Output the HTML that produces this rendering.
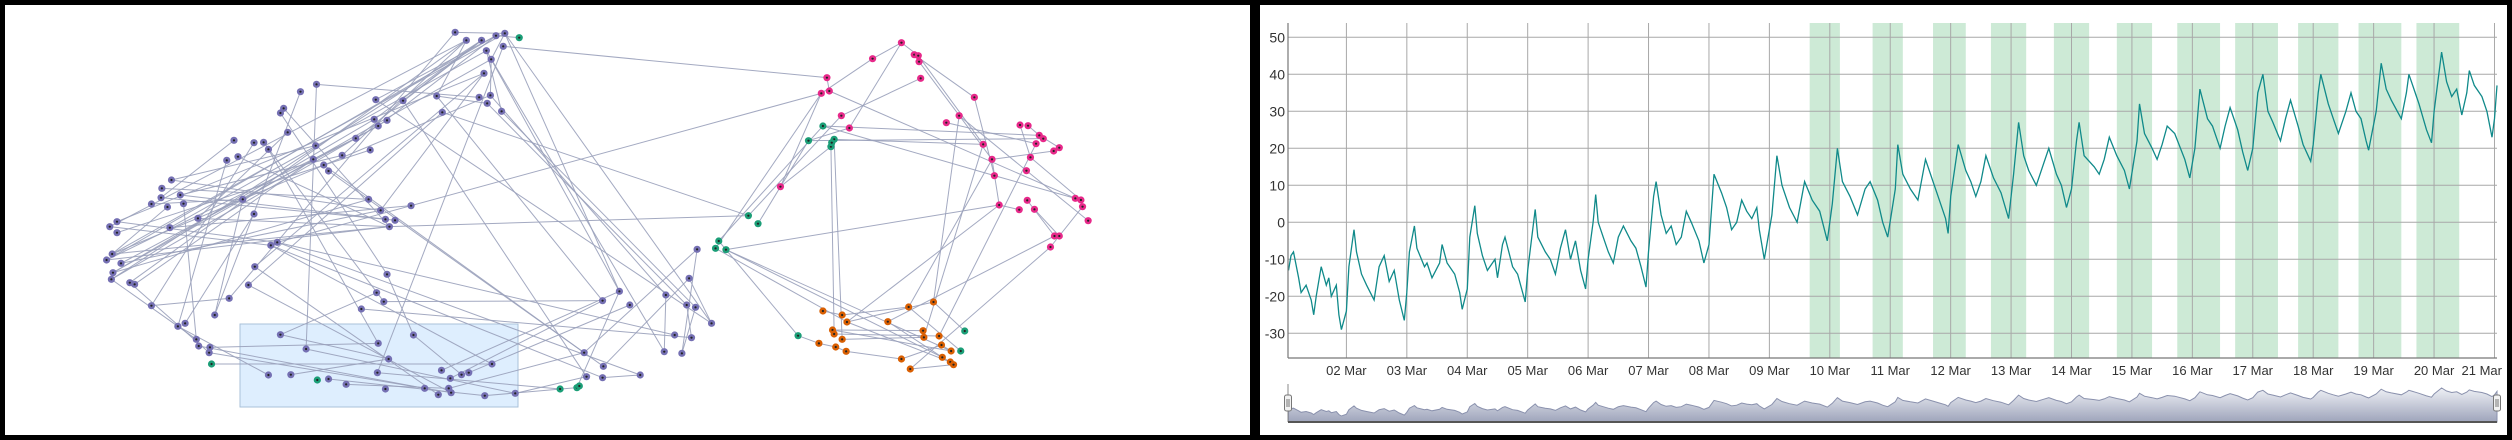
<!DOCTYPE html>
<html><head><meta charset="utf-8"><style>
html,body{margin:0;padding:0;background:#000;}
svg{display:block;font-family:"Liberation Sans",sans-serif;}
</style></head><body>
<svg id="root" width="2512" height="440" viewBox="0 0 2512 440">
<rect x="0" y="0" width="2512" height="440" fill="#000"/>
<g id="netPanel">
<rect x="5" y="5" width="1245" height="430" fill="#fff"/>
<rect x="240" y="324" width="278" height="83" fill="#deeefe" stroke="#a9c1d9" stroke-width="1"/>
<g id="edges"></g>
<g id="nodes"></g>
</g>
<g id="chartPanel">
<rect x="1260" y="5" width="1247" height="430" fill="#fff"/>
<g id="bands"></g>
<g id="grid"></g>
<g id="series"></g>
<g id="axes"></g>
<g id="nav"></g>
</g>
</svg>
<script>
// ---------- network data (zoom coordinates) ----------
const purpleNodes=[[568,97],[582,121],[601,121],[619,107],[630,100],[628,139],[607,152],[613,178],[604,220],[612,286],[598,292],[608,310],[626,334],[545,288],[552,337],[503,302],[469,299],[395,253],[375,275],[354,325],[350,339],[359,397],[467,358],[483,361],[472,378],[444,415],[462,450],[427,466],[394,437],[391,478],[404,495],[410,513],[317,428],[329,427],[335,448],[292,421],[297,470],[283,481],[214,540],[202,565],[225,585],[201,593],[229,611],[209,621],[189,612],[303,598],[317,642],[247,655],[212,683],[146,665],[137,680],[146,698],[460,598],[513,617],[475,631],[481,658],[493,661],[486,680],[346,727],[338,736],[140,762],[133,780],[151,790],[141,818],[139,838],[162,848],[168,853],[318,800],[310,855],[483,823],[470,878],[479,905],[451,927],[286,895],[189,917],[268,945],[231,970],[222,979],[245,1018],[248,1038],[262,1042],[261,1058],[350,1004],[382,1047],[472,1030],[516,1005],[485,1077],[471,1118],[335,1125],[363,1124],[410,1137],[432,1153],[481,1167],[530,1165],[547,1184],[563,1178],[560,1165],[562,1135],[551,1111],[576,1124],[585,1118],[614,1092],[605,1187],[643,1180],[729,1058],[732,1130],[752,1133],[753,1099],[799,1125],[829,1055],[851,1060],[863,1013],[842,1005],[888,970],[857,915],[868,922],[831,885],[860,835],[870,748],[773,874],[786,915],[752,902]];
const greenNodes=[[648,113],[264,1092],[396,1140],[699,1167],[720,1163],[723,1158],[934,647],[946,671],[897,723],[893,745],[906,749],[1027,378],[1009,422],[1037,440],[1041,418],[1038,428],[996,1007],[1204,993],[1199,1053]];
const pinkNodes=[[1125,128],[1089,176],[1141,164],[1146,167],[1147,185],[1032,233],[1149,235],[1216,292],[1025,280],[1035,273],[1050,347],[1060,384],[1197,347],[1181,368],[1273,375],[1283,377],[1297,406],[1302,416],[1227,433],[1293,431],[1315,453],[1322,443],[1238,478],[1286,472],[1281,512],[1241,527],[974,560],[1342,595],[1349,600],[1351,620],[1247,615],[1272,629],[1282,601],[1291,628],[1358,662],[1316,708],[1322,708],[1311,741]];
const orangeNodes=[[1027,933],[1051,945],[1057,966],[1134,921],[1165,906],[1108,965],[1039,990],[1041,1002],[1152,992],[1172,1008],[1153,1012],[1051,1018],[1022,1030],[1043,1041],[1056,1054],[1175,1035],[1187,1053],[1176,1072],[1125,1077],[1186,1086],[1190,1094],[1136,1107]];
const edgeList=[[568,97,630,100],[582,121,545,288],[601,121,503,302],[619,107,469,299],[630,100,613,178],[607,152,626,334],[613,178,612,286],[604,220,475,631],[628,139,1032,233],[601,121,467,358],[582,121,427,466],[619,107,472,378],[613,178,773,874],[607,152,829,1055],[604,220,146,665],[612,286,140,762],[598,292,395,253],[608,310,545,288],[630,100,888,970],[648,113,619,107],[601,121,444,415],[582,121,137,680],
[552,337,934,647],[1025,280,346,727],[486,680,934,647],[906,749,1247,615],[354,325,486,680],[350,339,483,823],[359,397,247,655],[467,358,141,818],[483,361,139,838],[472,378,151,790],[444,415,133,780],[462,450,146,698],[427,466,225,585],[394,437,214,540],[391,478,168,853],[404,495,729,1058],[410,513,753,1099],[317,428,189,917],[329,427,479,905],[335,448,472,1030],[292,421,201,593],[297,470,486,680],[283,481,222,979],[214,540,475,631],[202,565,460,598],[225,585,493,661],[201,593,481,658],[229,611,245,1018],[209,621,140,762],[189,612,303,598],[303,598,268,945],[317,642,231,970],[247,655,486,680],[212,683,513,617],[146,665,346,727],[137,680,338,736],[140,762,483,680],[133,780,486,680],[151,790,475,631],[141,818,460,598],[139,838,245,1018],[162,848,262,1058],[346,727,799,1125],[338,736,614,1092],[346,727,842,1005],[338,736,753,1133],[318,800,547,1184],[310,855,563,1178],[483,823,516,1005],[470,878,350,1004],[479,905,752,902],[451,927,863,1013],[286,895,189,917],[262,1042,472,1030],[248,1038,530,1165],[261,1058,563,1178],[264,1092,614,1092],[382,1047,643,1180],[350,1004,485,1077],[471,1118,699,1167],[410,1137,605,1187],[432,1153,560,1165],[363,1124,485,1077],[335,1125,222,979],[516,1005,576,1124],[551,1111,773,874],[585,1118,786,915],[562,1135,752,902],[605,1187,720,1163],[643,1180,732,1130],[729,1058,870,748],[753,1133,799,1125],[753,1099,860,835],[831,885,829,1055],[857,915,863,1013],[868,922,851,1060],[888,970,860,835],[870,748,851,1060],[773,874,720,1163],[560,1165,729,1058],[630,100,773,874],[608,310,857,915],[626,334,868,922],[612,286,831,885],[545,288,752,902],[503,302,732,1130],[469,299,888,970],[395,253,382,1047],[375,275,268,945],[552,337,310,855],[628,139,471,1118],[604,220,318,800],[582,121,162,848],[601,121,139,838],[613,178,141,818],[619,107,133,780],[630,100,140,762],[607,152,212,683],[568,97,286,895],
[897,723,1027,378],[893,745,1025,280],[906,749,1176,1072],[893,745,1057,966],[897,723,996,1007],[906,749,1187,1053],[946,671,1009,422],[934,647,1050,347],[1027,378,1297,406],[1009,422,1302,416],[1041,418,1227,433],[1037,440,1041,1002],[1041,418,1051,1018],[1037,440,974,560],[1027,378,1241,527],[1009,422,1060,384],
[1125,128,1089,176],[1125,128,1146,167],[1089,176,1025,280],[1141,164,1216,292],[1146,167,1227,433],[1147,185,1238,478],[1149,235,1050,347],[1032,233,1035,273],[1035,273,1342,595],[1025,280,974,560],[1060,384,1125,128],[1197,347,1281,512],[1181,368,1293,431],[1273,375,1286,472],[1283,377,1302,416],[1297,406,1322,443],[1315,453,1238,478],[1216,292,1241,527],[1241,527,1342,595],[1238,478,1247,615],[1286,472,1349,600],[1281,512,1358,662],[1247,615,1272,629],[1282,601,1316,708],[1291,628,1322,708],[1351,620,1311,741],[1247,615,1057,966],[1316,708,1108,965],[1311,741,1136,1107],[1227,433,1153,1012],[1293,431,1172,1008],[1197,347,1165,906],[1238,478,1134,921],
[1027,933,1051,945],[1051,945,1134,921],[1057,966,1165,906],[1039,990,1152,992],[1041,1002,1172,1008],[1051,1018,1153,1012],[1022,1030,1043,1041],[1043,1041,1056,1054],[1056,1054,1125,1077],[1125,1077,1175,1035],[1175,1035,1187,1053],[1176,1072,1186,1086],[1136,1107,1190,1094],[1108,965,1176,1072],[1165,906,1204,993],[1134,921,1199,1053],[996,1007,1022,1030],[1039,990,1187,1053],[1057,966,1186,1086]];

// ---------- time series data ----------
const hours=[1,2,3,5,6,8,10,11,12,14,16,17,18,20,21,22,24,25,27,28,30,32,35,37,39,41,43,45,47,48,49,51,52,55,56,58,61,62,64,67,69,70,72,73,75,76,78,80,83,84,86,87,90,92,95,96,99,100,103,105,107,109,111,113,115,117,119,120,122,123,124,126,128,130,132,134,137,139,141,143,144,146,147,149,151,153,155,157,159,161,164,166,168,170,173,175,177,179,181,183,185,187,188,190,193,195,197,200,203,206,209,212,215,217,219,221,224,227,230,232,235,237,239,242,243,245,248,251,254,257,259,262,263,264,267,270,272,274,276,278,281,284,287,289,291,293,295,298,301,303,306,308,310,312,314,315,317,321,323,325,327,330,333,335,338,339,341,344,346,348,350,353,357,359,361,363,366,368,371,373,375,378,380,382,384,386,388,390,392,395,397,399,402,404,407,408,410,411,414,416,418,421,423,425,427,429,430,433,435,437,439,443,445,446,450,453,455,456,459,461,463,465,467,469,470,472,475,477,479,480,481];
const values=[-13,-9,-8,-15,-19,-17,-21,-25,-20,-12,-17,-15,-20,-17,-25,-29,-24,-12,-2,-8,-14,-17,-21,-12,-9,-16,-13,-21,-26.5,-19,-8,-1,-7,-12,-11,-15,-11,-6,-11,-14,-19,-23.5,-18,-4,4.5,-3,-9,-13,-10,-15,-6,-4,-12,-14,-21.5,-13,3.5,-4,-8,-10,-14,-7,-2,-10,-5,-13,-18,-10,0,7.5,0,-4,-8,-11,-4,-1,-5,-7,-12,-17.5,-8,7,11,2,-3,-1,-6,-4,3,0,-5,-11,-6,13,8,4,-2,0,6,3,1,4,-2,-10,2,18,10,4,0,11,6,3,-5,5,20,11,7,2,9,11,6,0,-4,9,21,13,9,6,17,11,7,1,-3,7,21,14,11,7,11,18,12,8,1,13,27,18,14,10,16,20,13,10,4,9,22,27,18,15,13,17,23,18,14,9,22,32,24,20,17,21,26,24,17,12,20,36,28,26,20,26,31,25,19,14,20,35,40,30,27,22,28,33,26,21,16.5,21,35,40,32,28,24,30,35,30,28,22,19.5,30,43,36,33,28,35,40,32,25,21.5,30,46,38,34,36,29,35,41,37,34,30,23,28,37];
const bandStart=[208,233,257,280,305,330,354,377,402,426,449];
const bandEnd=[220,245,270,294,319,344,371,394,418,443,466];
const yTicks=[-30,-20,-10,0,10,20,30,40,50];
const xTickHours=[24,48,72,96,120,144,168,192,216,240,264,288,312,336,360,384,408,432,456,480];
const xTickLabels=["02 Mar","03 Mar","04 Mar","05 Mar","06 Mar","07 Mar","08 Mar","09 Mar","10 Mar","11 Mar","12 Mar","13 Mar","14 Mar","15 Mar","16 Mar","17 Mar","18 Mar","19 Mar","20 Mar","21 Mar"];

const NS="http://www.w3.org/2000/svg";
function mk(tag,attrs,parent){const e=document.createElementNS(NS,tag);for(const k in attrs)e.setAttribute(k,attrs[k]);parent.appendChild(e);return e;}

// ---------- network ----------
const zx=v=>v/1.248, zy=v=>v/3;
const allNodes=[];
purpleNodes.forEach(p=>allNodes.push([p[0],p[1],'#7570b3']));
greenNodes.forEach(p=>allNodes.push([p[0],p[1],'#1b9e77']));
pinkNodes.forEach(p=>allNodes.push([p[0],p[1],'#e7298a']));
orangeNodes.forEach(p=>allNodes.push([p[0],p[1],'#d95f02']));
function nearest(x,y){let b=null,bd=1e9;for(const n of allNodes){const d=(n[0]-x)**2+(n[1]-y)**2;if(d<bd){bd=d;b=n;}}return b;}
const eg=document.getElementById('edges');
edgeList.forEach(e=>{
  const a=nearest(e[0],e[1]), b=nearest(e[2],e[3]);
  const l=mk('line',{x1:zx(a[0]),y1:zy(a[1]),x2:zx(b[0]),y2:zy(b[1]),stroke:'#99a0ba','stroke-width':1,'stroke-opacity':0.9},eg);
  
  
});
const ng=document.getElementById('nodes');
allNodes.forEach(n=>{
  const c=mk('circle',{cx:zx(n[0]),cy:zy(n[1]),r:3.6,fill:n[2]},ng);
  
  
  mk('circle',{cx:zx(n[0]),cy:zy(n[1]),r:1.1,fill:'#222'},ng);
});

// ---------- chart ----------
const X0=1288,X1=2497,H0=0.8,H1=481;
const xs=h=>X0+(h-H0)*(X1-X0)/(H1-H0);
const ys=v=>222.3-v*3.7;
const TOP=23,BOT=358;
const bg=document.getElementById('bands');
bandStart.forEach((s,i)=>{
  const r=mk('rect',{x:xs(s),y:TOP,width:xs(bandEnd[i])-xs(s),height:BOT-TOP,fill:'#cdead6'},bg);
  
  
});
const gg=document.getElementById('grid');
yTicks.forEach(t=>{
  const l=mk('line',{x1:X0,x2:X1,y1:ys(t),y2:ys(t),stroke:'#a8a8a8','stroke-width':1},gg);
  
  
  const tx=mk('text',{x:1285,y:ys(t)+5,'text-anchor':'end','font-size':14,fill:'#333'},gg);
  tx.textContent=t;
  
  
});
xTickHours.forEach((h,i)=>{
  const l=mk('line',{x1:xs(h),x2:xs(h),y1:TOP,y2:BOT,stroke:'#a8a8a8','stroke-width':1},gg);
  
  
  const last=i===xTickHours.length-1;
  const tx=mk('text',{x:last?2502:xs(h),y:375,'text-anchor':last?'end':'middle','font-size':13,fill:'#333'},gg);
  tx.textContent=xTickLabels[i];
  
  
});
const ag=document.getElementById('axes');
const ya=mk('line',{x1:X0,x2:X0,y1:TOP,y2:BOT,stroke:'#777','stroke-width':1.2},ag);


const xa=mk('line',{x1:X0,x2:X1,y1:BOT,y2:BOT,stroke:'#777','stroke-width':1.2},ag);



const sg=document.getElementById('series');
let d='';
hours.forEach((h,i)=>{d+=(i?'L':'M')+xs(h).toFixed(1)+','+ys(values[i]).toFixed(1);});
const path=mk('path',{d:d,fill:'none',stroke:'#108a8a','stroke-width':1.3},sg);



// navigator
const nv=document.getElementById('nav');
const NT=384,NB=422;
const nys=v=>405.2-v*0.373;
const defs=mk('defs',{},nv);
const grad=mk('linearGradient',{id:'ng',x1:0,y1:0,x2:0,y2:1},defs);
mk('stop',{offset:'0','stop-color':'#eef0f5'},grad);
mk('stop',{offset:'1','stop-color':'#9ea4bb'},grad);
let nd='M'+xs(hours[0])+','+NB;
hours.forEach((h,i)=>{nd+='L'+xs(h).toFixed(1)+','+nys(values[i]).toFixed(1);});
nd+='L'+xs(hours[hours.length-1])+','+NB+'Z';
const na=mk('path',{d:nd,fill:'url(#ng)',stroke:'#8a91ad','stroke-width':1},nv);


const nl=mk('line',{x1:X0,x2:X0,y1:NT,y2:NB,stroke:'#888','stroke-width':1},nv);


const nbt=mk('line',{x1:X0,x2:X1,y1:NB,y2:NB,stroke:'#555','stroke-width':2},nv);


[X0,X1].forEach((x,i)=>{
  const hd=mk('rect',{x:x-3.5,y:395,width:7,height:16,rx:2,fill:'#f2f2f2',stroke:'#777','stroke-width':1},nv);
  
  
  mk('line',{x1:x-1,x2:x-1,y1:399,y2:407,stroke:'#777'},nv);
  mk('line',{x1:x+1,x2:x+1,y1:399,y2:407,stroke:'#777'},nv);
});
</script>
</body></html>
